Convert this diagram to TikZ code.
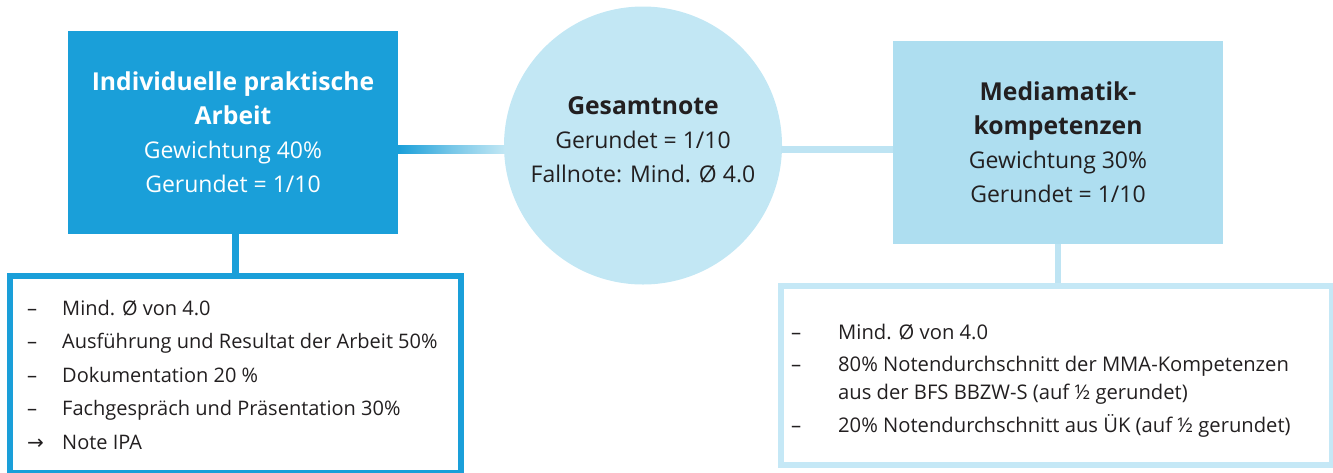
\documentclass[tikz,border=0pt]{standalone}
\usepackage{fontspec}
\setmainfont{Open Sans}
\newfontfamily\symfont{DejaVu Sans}
\usetikzlibrary{calc}
\definecolor{ipablue}{RGB}{26,159,217}
\definecolor{gescol}{RGB}{194,231,244}
\definecolor{mkcol}{RGB}{174,222,240}
\definecolor{mkline}{RGB}{190,228,243}
\definecolor{mklistline}{RGB}{197,232,246}
\definecolor{txtdark}{RGB}{34,31,32}
\newcommand{\bt}[1]{{\fontsize{24.7}{34}\selectfont\bfseries #1}}
\tikzset{
  boxtext/.style={font=\fontsize{23}{34}\selectfont, align=center},
  listtext/.style={font=\fontsize{20}{33.4}\selectfont, align=left, text=txtdark, inner sep=0pt},
  mainbox/.style={rectangle, minimum width=330pt, minimum height=203pt, inner sep=0pt, boxtext},
}
\begin{document}
\begin{tikzpicture}[x=1pt,y=-1pt]
\useasboundingbox (0,0) rectangle (1333,472);
% list boxes
\node[draw=ipablue, line width=6pt, rectangle, minimum width=451pt, minimum height=197pt, inner sep=0pt] (ipalist) at (235.5,374.5) {};
\node[draw=mklistline, line width=6pt, rectangle, minimum width=551pt, minimum height=179pt, inner sep=0pt] (mklist) at (1056.5,375.5) {};
% main boxes
\node[mainbox, fill=ipablue, text=white] (ipa) at (233,132.5)
  {\bt{Individuelle praktische}\\\bt{Arbeit}\\Gewichtung 40\%\\Gerundet = 1/10};
\node[mainbox, fill=mkcol, text=txtdark] (mk) at (1058,142.5)
  {\bt{Mediamatik-}\\\bt{kompetenzen}\\Gewichtung 30\%\\Gerundet = 1/10};
% circle
\node[circle, fill=gescol, minimum size=278pt, inner sep=0pt,
  label={[boxtext, text=txtdark, yshift=6pt]center:{\bt{Gesamtnote}\\Gerundet = 1/10\\Fallnote: Mind. Ø 4.0}}] (ges) at (643,145.5) {};
% connectors
\coordinate (hl) at (0,149);
\fill[left color=ipablue, right color=gescol, middle color=ipablue!45!gescol]
  ($(ipa.east |- hl)+(0,-4)$) rectangle ($(ges.west |- hl)+(1,4)$);
\draw[mkline, line width=7pt] ($(ges.east |- hl)+(-1,0.5)$) -- ($(mk.west |- hl)+(0,0.5)$);
\draw[ipablue, line width=6.5pt] (ipalist.north |- ipa.south) -- (ipalist.north);
\draw[mkline, line width=6.5pt] (mk.south) -- (mk.south |- mklist.north);
% list texts (anchored at the baseline of the last line)
\node[listtext, anchor=base west] (ipaitems) at (27,449)
  {\makebox[35pt][l]{–}Mind. Ø von 4.0\\
   \makebox[35pt][l]{–}Ausführung und Resultat der Arbeit 50\%\\
   \makebox[35pt][l]{–}Dokumentation 20 \%\\
   \makebox[35pt][l]{–}Fachgespräch und Präsentation 30\%\\
   \makebox[35pt][l]{{\symfont →}}Note IPA};
\node[listtext, anchor=base west, font=\fontsize{20.2}{28}\selectfont] (mkitems) at (791,432)
  {\makebox[47pt][l]{–}Mind. Ø von 4.0\\[4.5pt]
   \makebox[47pt][l]{–}80\% Notendurchschnitt der MMA-Kompetenzen\\
   \makebox[47pt][l]{}aus der BFS BBZW-S (auf ½ gerundet)\\[4.5pt]
   \makebox[47pt][l]{–}20\% Notendurchschnitt aus ÜK (auf ½ gerundet)};
\end{tikzpicture}
\end{document}
